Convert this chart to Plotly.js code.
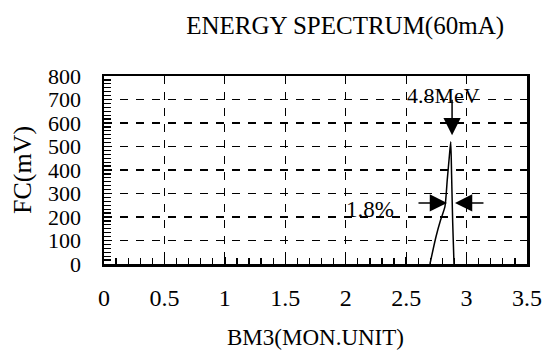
<!DOCTYPE html>
<html>
<head>
<meta charset="utf-8">
<script src="https://cdn.plot.ly/plotly-3.0.1.min.js"></script>
<style>html,body{margin:0;padding:0;background:#fff;}#chart{width:544px;height:357px;}</style>
</head>
<body>
<div id="chart"></div>
<script>
// Beam monitor reading (MON.UNIT) vs Faraday cup signal (mV)
const bm3 = [2.697, 2.747, 2.785, 2.821, 2.840, 2.857, 2.869, 2.876, 2.885, 2.896];
const fc  = [0, 116, 187, 244, 357, 456, 520, 380, 180, 0];

const xTicks = [0, 0.5, 1, 1.5, 2, 2.5, 3, 3.5];
const xTickLabels = ['0', '0.5', '1', '1.5', '2', '2.5', '3', '3.5'];
const yTicks = [0, 100, 200, 300, 400, 500, 600, 700, 800];
const yTickLabels = ['0', '100', '200', '300', '400', '500', '600', '700', '800'];

// annotation anchors
const peakLabel = {x: 2.805, y: 719, text: '4.8MeV'};
const peakArrow = {x: 2.88, y: 548};
const widthLabel = {x: 2.20, y: 230, text: '1.8%'};
const widthLeft = {x: 2.838, y: 260};
const widthRight = {x: 2.904, y: 260};

const FONT = '"Liberation Serif"';

const trace = {
  x: bm3, y: fc, type: 'scatter', mode: 'lines',
  line: {color: '#000', width: 1.5, shape: 'spline', smoothing: 0.6},
  hoverinfo: 'skip', showlegend: false
};

const layout = {
  width: 544, height: 357,
  margin: {l: 104, r: 17, t: 76, b: 93},
  paper_bgcolor: '#fff', plot_bgcolor: '#fff',
  font: {family: FONT, color: '#000'},
  title: {text: 'ENERGY SPECTRUM(60mA)', font: {family: FONT, size: 25, color: '#000'},
          xref: 'paper', x: 0.57, xanchor: 'center', yref: 'container', y: 0.93, yanchor: 'middle'},
  xaxis: {
    range: [0, 3.5], tickvals: xTicks, ticktext: xTickLabels,
    tickfont: {family: FONT, size: 24, color: '#000'},
    ticks: 'inside', ticklen: 7, tickcolor: '#000', tickwidth: 1.5,
    ticklabelstandoff: 11,
    showline: true, linecolor: '#000', linewidth: 2.5, mirror: true,
    showgrid: true, gridcolor: '#000', gridwidth: 1.2, griddash: '8px,8px',
    zeroline: false,
    minor: {dtick: 0.1, tick0: 0, ticks: 'inside', ticklen: 6, tickcolor: '#000', tickwidth: 1.3, showgrid: false},
    title: {text: 'BM3(MON.UNIT)', font: {family: FONT, size: 23, color: '#000'}, standoff: 19}
  },
  yaxis: {
    range: [0, 800], tickvals: yTicks, ticktext: yTickLabels,
    tickfont: {family: FONT, size: 22, color: '#000'},
    ticks: 'inside', ticklen: 7, tickcolor: '#000', tickwidth: 1.5,
    ticklabelstandoff: 16,
    showline: true, linecolor: '#000', linewidth: 2.5, mirror: true,
    showgrid: true, gridcolor: '#000', gridwidth: 1.2, griddash: '8px,8px',
    zeroline: false,
    minor: {dtick: 100/6, tick0: 0, ticks: 'inside', ticklen: 7, tickcolor: '#000', tickwidth: 1.3, showgrid: false},
    title: {text: 'FC(mV)', font: {family: FONT, size: 26, color: '#000'}, standoff: 9}
  },
  annotations: [
    {x: peakLabel.x, y: peakLabel.y, xref: 'x', yref: 'y', text: peakLabel.text, showarrow: false,
     font: {family: FONT, size: 22, color: '#000'}},
    {x: peakArrow.x, y: peakArrow.y, xref: 'x', yref: 'y', text: '', showarrow: true,
     ax: 0, ay: -37, arrowhead: 2, arrowsize: 2.3, arrowwidth: 1.5, arrowcolor: '#000'},
    {x: widthLabel.x, y: widthLabel.y, xref: 'x', yref: 'y', text: widthLabel.text, showarrow: false,
     font: {family: FONT, size: 23, color: '#000'}},
    {x: widthLeft.x, y: widthLeft.y, xref: 'x', yref: 'y', text: '', showarrow: true,
     ax: -30, ay: 0, arrowhead: 2, arrowsize: 2.3, arrowwidth: 1.5, arrowcolor: '#000'},
    {x: widthRight.x, y: widthRight.y, xref: 'x', yref: 'y', text: '', showarrow: true,
     ax: 30, ay: 0, arrowhead: 2, arrowsize: 2.3, arrowwidth: 1.5, arrowcolor: '#000'}
  ]
};

Plotly.newPlot('chart', [trace], layout, {staticPlot: true, displayModeBar: false});
</script>
</body>
</html>
